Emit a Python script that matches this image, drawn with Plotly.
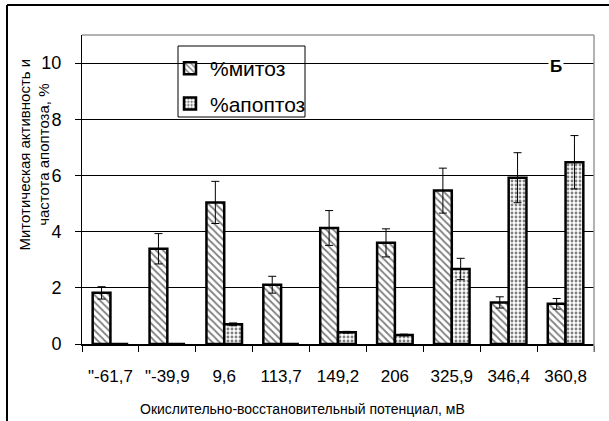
import plotly.graph_objects as go

categories = ['"-61,7', '"-39,9', '9,6', '113,7', '149,2', '206', '325,9', '346,4', '360,8']
mitoz = [1.82, 3.39, 5.04, 2.11, 4.13, 3.6, 5.46, 1.48, 1.43]
mitoz_err = [0.22, 0.54, 0.75, 0.3, 0.62, 0.5, 0.8, 0.2, 0.19]
apoptoz = [0, 0, 0.7, 0, 0.42, 0.32, 2.67, 5.92, 6.47]
apoptoz_err = [0, 0, 0.05, 0, 0.03, 0.03, 0.38, 0.89, 0.95]

W, H = 609, 421
L, R, T, B = 82, 15, 35, 77
pw, ph = W - L - R, H - T - B

def px(x):
    return (x - L) / pw

def py(y):
    return (H - B - y) / ph

FONT = "Liberation Sans, Arial, sans-serif"

fig = go.Figure()
fig.add_trace(go.Bar(
    x=categories, y=mitoz, name="%митоз", legendgroup="a",
    marker=dict(color="white", line=dict(color="black", width=2.5),
                pattern=dict(shape="\\", fgcolor="black", bgcolor="white", size=5, solidity=0.35)),
    error_y=dict(type="data", array=mitoz_err, color="black", thickness=1, width=4),
))
fig.add_trace(go.Bar(
    x=categories, y=apoptoz, name="%апоптоз", legendgroup="b",
    marker=dict(color="white", line=dict(color="black", width=2.5),
                pattern=dict(shape=".", fgcolor="black", bgcolor="white", size=4, solidity=0.4)),
    error_y=dict(type="data", array=apoptoz_err, color="black", thickness=1, width=4),
))

fig.update_layout(
    width=W, height=H,
    margin=dict(l=L, r=R, t=T, b=B),
    paper_bgcolor="white", plot_bgcolor="white",
    font=dict(family=FONT, color="black", size=16),
    barmode="group", bargap=0.375, bargroupgap=0,
    showlegend=True,
    legend=dict(x=px(170), y=py(48), xanchor="left", yanchor="top",
                bgcolor="rgba(0,0,0,0)", borderwidth=0,
                font=dict(size=21, family=FONT), tracegroupgap=5,
                itemwidth=30),
    xaxis=dict(showgrid=False, showline=True, linecolor="black", linewidth=1.5,
               ticks="outside", tickson="boundaries", ticklen=6, tickcolor="black",
               tickfont=dict(size=17), ticklabelstandoff=16),
    yaxis=dict(range=[0, 11], tickvals=[0, 2, 4, 6, 8, 10], showgrid=True,
               gridcolor="black", gridwidth=1.2, zeroline=False,
               showline=True, linecolor="black", linewidth=1,
               ticks="outside", ticklen=6, tickcolor="black",
               tickfont=dict(size=18), ticklabelstandoff=10),
)

fig.add_annotation(text="Митотическая активность и<br>частота апоптоза, %",
                   xref="paper", yref="paper", x=px(33.5), y=py(155),
                   xanchor="center", yanchor="middle",
                   textangle=-90, showarrow=False, font=dict(size=15, family=FONT))
fig.add_annotation(text="Окислительно-восстановительный потенциал, мВ",
                   xref="paper", yref="paper", x=px(302), y=py(409),
                   xanchor="center", yanchor="middle",
                   showarrow=False, font=dict(size=14, family=FONT))
fig.add_annotation(text="<b>Б</b>", xref="paper", yref="paper", x=px(556), y=py(66),
                   xanchor="center", yanchor="middle",
                   showarrow=False, font=dict(size=17, family=FONT), bgcolor="white")

# legend box
fig.add_shape(type="rect", xref="paper", yref="paper", x0=px(178), x1=px(305), y0=py(117), y1=py(46),
              line=dict(color="black", width=1), fillcolor="white", layer="between")
# plot-area border (gray) top and right
fig.add_shape(type="line", xref="paper", yref="paper", x0=0, x1=1, y0=1, y1=1,
              line=dict(color="#999999", width=1.5))
fig.add_shape(type="line", xref="paper", yref="paper", x0=1, x1=1, y0=py(352), y1=1,
              line=dict(color="#999999", width=1.5))
# outer frame
fig.add_shape(type="line", xref="paper", yref="paper", x0=px(7), x1=px(7), y0=py(430), y1=py(5),
              line=dict(color="black", width=2))
fig.add_shape(type="line", xref="paper", yref="paper", x0=px(7), x1=px(620), y0=py(5), y1=py(5),
              line=dict(color="black", width=2))

fig.write_html("out.html")
